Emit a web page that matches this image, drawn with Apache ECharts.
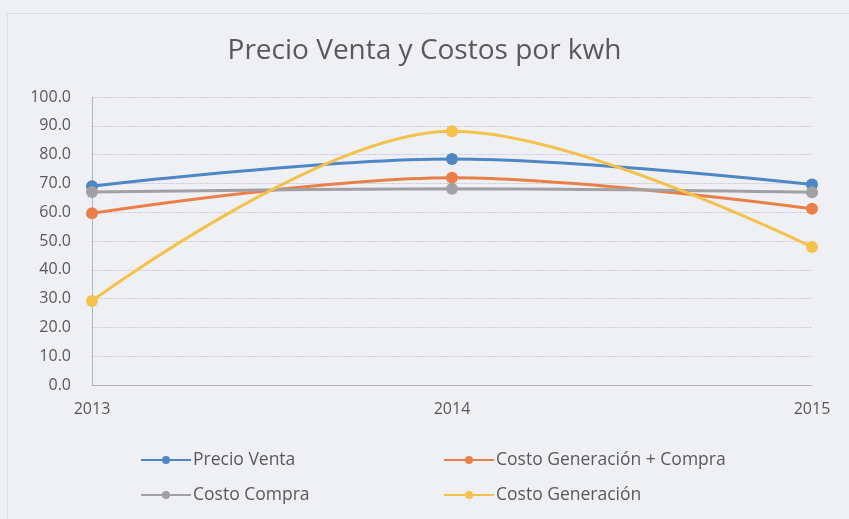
<!DOCTYPE html>
<html><head><meta charset="utf-8">
<script src="https://cdn.jsdelivr.net/npm/echarts@6/dist/echarts.min.js"></script>
<style>html,body{margin:0;padding:0;background:#eef0f4;}#c{width:849px;height:519px;}</style>
</head><body><div id="c"></div>
<script>
const years = ['2013', '2014', '2015'];
const precioVenta = [69.0, 78.5, 69.6];
const costoGenCompra = [59.6, 72.0, 61.2];
const costoCompra = [67.0, 68.1, 66.9];
const costoGeneracion = [29.2, 88.1, 47.9];
const seriesNames = ['Precio Venta', 'Costo Generación + Compra', 'Costo Compra', 'Costo Generación'];
const colors = ['#4f86c6', '#e9804a', '#a3a0a3', '#f4c24a'];
const values = [precioVenta, costoGenCompra, costoCompra, costoGeneracion];

const chart = echarts.init(document.getElementById('c'));
const font = '"Open Sans", sans-serif';
const legendPos = [[135, 446], [438, 446], [135, 481], [438, 481]];
chart.setOption({
  backgroundColor: '#eef0f4',
  animation: false,
  graphic: [{type: 'rect', shape: {x: 7.5, y: 13.5, width: 900, height: 600}, style: {fill: 'none', stroke: '#dcdee2', lineWidth: 1}}],
  title: {text: 'Precio Venta y Costos por kwh', left: 'center', top: 32,
    textStyle: {fontFamily: font, fontSize: 28, fontWeight: 'normal', color: '#595959'}},
  legend: seriesNames.map((n, i) => ({
    data: [n], left: legendPos[i][0], top: legendPos[i][1], itemWidth: 50, itemHeight: 10, itemGap: 4,
    textStyle: {fontFamily: font, fontSize: 17.5, color: '#595959', padding: [0, 0, 0, -3]}
  })),
  grid: {left: 92, right: 37, top: 97, bottom: 134},
  xAxis: {type: 'category', data: years, boundaryGap: false,
    axisLine: {lineStyle: {color: '#b4b4b8'}}, axisTick: {show: false},
    axisLabel: {fontFamily: font, fontSize: 16, color: '#595959', margin: 16},
    splitLine: {show: false}},
  yAxis: {type: 'value', min: 0, max: 100, interval: 10,
    axisLine: {show: true, lineStyle: {color: '#b4b4b8'}}, axisTick: {show: false},
    axisLabel: {fontFamily: font, fontSize: 16, color: '#595959', margin: 21, formatter: v => v.toFixed(1)},
    splitLine: {lineStyle: {color: '#cfcbd8', type: [2, 1]}}},
  series: seriesNames.map((n, i) => ({
    name: n, type: 'line', data: values[i], smooth: 0.35, symbol: 'circle', symbolSize: 12,
    lineStyle: {width: 3, color: colors[i]}, itemStyle: {color: colors[i]}, z: i === 3 ? 5 : 3
  }))
});
</script></body></html>
